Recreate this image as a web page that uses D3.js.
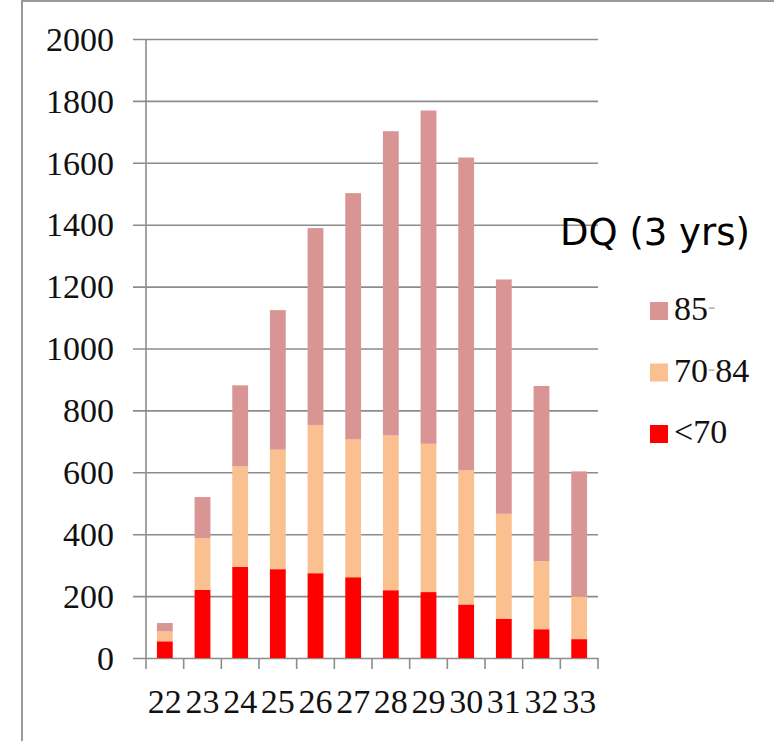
<!DOCTYPE html>
<html>
<head>
<meta charset="utf-8">
<script src="https://cdn.jsdelivr.net/npm/d3@7"></script>
<style>
  body { margin: 0; background: #fff; }
  svg { display: block; }
</style>
</head>
<body>
<div id="chart"></div>
<script>
// ages (months) on the x axis
const categories = ["22","23","24","25","26","27","28","29","30","31","32","33"];
// DQ groups, stacked bottom to top
const under70 = [54, 220, 294, 287, 274, 261, 219, 213, 173, 127, 93, 61];
const from70to84 = [32, 167, 325, 386, 479, 445, 500, 479, 433, 339, 220, 138];
const over85 = [27, 133, 262, 451, 636, 796, 983, 1077, 1011, 757, 566, 404];
const yTicks = [0, 200, 400, 600, 800, 1000, 1200, 1400, 1600, 1800, 2000];
const seriesKeys = ["lt70", "mid", "hi"];
const legendLabels = [["85", "-", ""], ["70", "-", "84"], ["<70", "", ""]];
const legendTitle = "DQ (3 yrs)";

const colors = {lt70: "#ff0000", mid: "#fac090", hi: "#d99594"};
const gridColor = "#8c8c8c";
const serifFont = "Liberation Serif";

var W = 774, H = 741;
var margin = {top: 39, left: 146, right: 176, bottom: 83};

const rows = categories.map((c, i) => ({cat: c, lt70: under70[i], mid: from70to84[i], hi: over85[i]}));
const stacked = d3.stack().keys(seriesKeys)(rows);

var svg = d3.select("#chart").append("svg")
  .attr("width", W)
  .attr("height", H);

// outer frame
svg.append("rect")
  .attr("x", 22).attr("y", 1)
  .attr("width", W + 10).attr("height", H + 10)
  .style("fill", "none")
  .style("stroke", "#999")
  .style("stroke-width", 2);

const x = d3.scaleBand()
  .domain(categories)
  .range([margin.left, W - margin.right])
  .paddingInner(0.58)
  .paddingOuter(0.29);

const y = d3.scaleLinear()
  .domain([0, 2000])
  .range([H - margin.bottom, margin.top]);

// y axis with gridlines
const yAxis = svg.append("g")
  .attr("transform", "translate(" + margin.left + ",0)")
  .call(d3.axisLeft(y)
    .tickValues(yTicks)
    .tickFormat(d3.format("d"))
    .tickSize(-(W - margin.right - margin.left))
    .tickSizeOuter(0)
    .tickPadding(0));
yAxis.attr("font-family", serifFont).attr("font-size", 34);
yAxis.select(".domain").remove();
yAxis.selectAll(".tick line")
  .attr("x1", -13)
  .style("stroke", gridColor)
  .style("stroke-width", 1.6);
yAxis.selectAll(".tick text")
  .attr("x", -32)
  .attr("dy", "0.33em")
  .style("font-family", serifFont)
  .style("font-size", "34px")
  .style("fill", "#111");

// stacked bars
svg.append("g").selectAll("g")
  .data(stacked)
  .enter().append("g")
  .style("fill", d => colors[d.key])
  .selectAll("rect")
  .data(d => d)
  .enter().append("rect")
  .attr("x", d => x(d.data.cat))
  .attr("y", d => y(d[1]))
  .attr("width", x.bandwidth())
  .attr("height", d => y(d[0]) - y(d[1]));

// vertical axis line, reaching down to the first x tick
svg.append("line")
  .attr("x1", margin.left).attr("x2", margin.left)
  .attr("y1", y(2000)).attr("y2", y(0) + 11)
  .style("stroke", gridColor)
  .style("stroke-width", 1.6);

// x tick marks sit between the categories
const edges = d3.range(categories.length + 1).map(i => x.range()[0] + i * x.step());
svg.append("g").selectAll("line")
  .data(edges.slice(1))
  .enter().append("line")
  .attr("x1", d => d).attr("x2", d => d)
  .attr("y1", y(0)).attr("y2", y(0) + 11)
  .style("stroke", gridColor)
  .style("stroke-width", 1.6);

const xAxis = svg.append("g")
  .attr("transform", "translate(0," + y(0) + ")")
  .call(d3.axisBottom(x).tickSize(0).tickPadding(0));
xAxis.attr("font-family", serifFont).attr("font-size", 34);
xAxis.select(".domain").remove();
xAxis.selectAll(".tick text")
  .attr("y", 55)
  .attr("dy", 0)
  .style("font-family", serifFont)
  .style("font-size", "34px")
  .style("fill", "#111");

// legend
svg.append("text")
  .attr("x", 560).attr("y", 245)
  .style("font-family", "DejaVu Sans")
  .style("font-size", "37px")
  .style("fill", "#000")
  .text(legendTitle);

const legendKeys = ["hi", "mid", "lt70"];
const legend = svg.append("g").selectAll("g")
  .data(legendKeys)
  .enter().append("g")
  .attr("transform", (d, i) => "translate(650," + (320 + i * 61.5) + ")");
legend.append("rect")
  .attr("x", 0).attr("y", -18)
  .attr("width", 18).attr("height", 18)
  .style("fill", d => colors[d]);
const lt = legend.append("text")
  .attr("x", 24).attr("y", 0)
  .style("font-family", serifFont)
  .style("font-size", "34px")
  .style("fill", "#111");
lt.append("tspan").text((d, i) => legendLabels[i][0]);
lt.append("tspan")
  .attr("dy", -7)
  .style("fill", "#b5b5b5")
  .style("font-size", "22px")
  .text((d, i) => legendLabels[i][1]);
lt.append("tspan")
  .attr("dy", 7)
  .text((d, i) => legendLabels[i][2]);
</script>
</body>
</html>
